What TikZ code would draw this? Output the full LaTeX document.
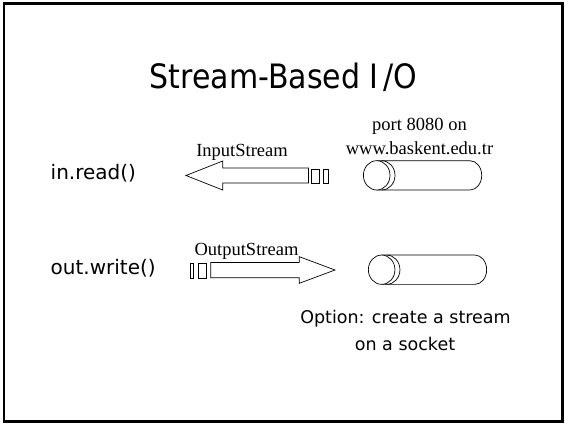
\documentclass[tikz,border=0pt]{standalone}
\usepackage{fontspec}
\usepackage{graphicx}
\setmainfont{Liberation Serif}
\newfontfamily\slidesans{DejaVu Sans}
\begin{document}
\begin{tikzpicture}[x=1pt,y=-1pt,
  outl/.style={draw=black,line width=0.7pt,line join=miter},
  frameline/.style={draw=black,line width=2.5pt},
  titlelbl/.style={font=\slidesans\fontsize{30}{36}\selectfont,inner sep=0pt,anchor=base},
  codelbl/.style={font=\slidesans\fontsize{20}{24}\selectfont,inner sep=0pt,anchor=base west},
  notelbl/.style={font=\slidesans\fontsize{17.5}{21}\selectfont,inner sep=0pt,anchor=base},
  seriflbl/.style={font=\fontsize{18.5}{22}\selectfont,inner sep=0pt,anchor=base},
  sock/.pic={
    \draw[outl] (0,-14.65) -- (93.3,-14.65)
      arc[start angle=-90,end angle=90,x radius=11.7,y radius=14.65]
      -- (0,14.65);
    \draw[outl] (5,-14.65) arc[start angle=-90,end angle=90,x radius=13.3,y radius=14.65];
    \draw[outl,fill=white] (0,0) ellipse[x radius=13.3,y radius=14.65];
  }]
\useasboundingbox (0,0) rectangle (565,424);
\draw[frameline] (4,3.7) rectangle (562.3,421.7);

\node[titlelbl] (title) at (283.5,88) {\scalebox{1}[1.12]{Stream-Based I\,/O}};

\node[codelbl] (inread) at (50.5,179) {in.read()};
\node[codelbl] (outwrite) at (50.5,274) {out.write()};

\node[seriflbl] (instream) at (242,156.5) {InputStream};
\node[seriflbl] (outstream) at (246.5,255) {OutputStream};
\node[seriflbl] (port) at (419.5,130) {port 8080 on};
\node[seriflbl] (host) at (419.5,154.5) {www.baskent.edu.tr};

\node[notelbl] (opt1) at (405.5,323.3) {Option: create a stream};
\node[notelbl] (opt2) at (405,350.5) {on a socket};

% input block arrow (pointing left)
\draw[outl] (186,175.5) -- (222.7,161) -- (222.7,168) -- (308.5,168)
  -- (308.5,183) -- (222.7,183) -- (222.7,190) -- cycle;
\draw[outl] (311.7,169.7) rectangle (319,183);
\draw[outl] (323.5,169.7) rectangle (328.3,183);

% output block arrow (pointing right)
\draw[outl] (335,270) -- (299.3,256.7) -- (299.3,262.5) -- (210.7,262.5)
  -- (210.7,277.7) -- (299.3,277.7) -- (299.3,283.3) -- cycle;
\draw[outl] (190,263) rectangle (193.3,278);
\draw[outl] (198.3,263) rectangle (206,278);

% sockets
\pic (sock1) at (376.7,175.35) {sock};
\pic (sock2) at (381.65,269.7) {sock};
\end{tikzpicture}
\end{document}
